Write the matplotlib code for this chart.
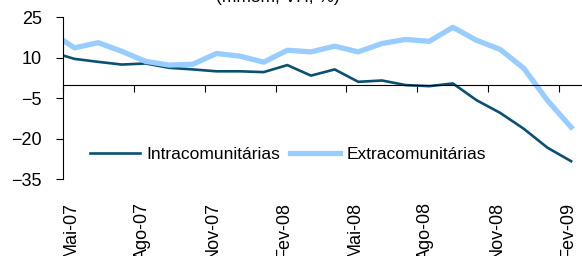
import matplotlib
matplotlib.use('Agg')
import matplotlib.pyplot as plt
import numpy as np

plt.rcParams['font.family'] = ['Liberation Sans', 'DejaVu Sans']

# meses (Abr-07 .. Fev-09), o primeiro fica cortado pelo eixo
meses = ['Abr-07', 'Mai-07', 'Jun-07', 'Jul-07', 'Ago-07', 'Set-07', 'Out-07',
         'Nov-07', 'Dez-07', 'Jan-08', 'Fev-08', 'Mar-08', 'Abr-08', 'Mai-08',
         'Jun-08', 'Jul-08', 'Ago-08', 'Set-08', 'Out-08', 'Nov-08', 'Dez-08',
         'Jan-09', 'Fev-09']
intra = [12.2, 9.6, 8.5, 7.5, 7.9, 6.3, 5.7, 5.0, 5.0, 4.7, 7.3, 3.4, 5.7,
         1.1, 1.6, -0.1, -0.5, 0.5, -5.7, -10.4, -16.3, -23.3, -28.3]
extra = [19.3, 13.7, 15.6, 12.4, 8.7, 7.3, 7.6, 11.6, 10.6, 8.4, 12.8, 12.2,
         14.3, 12.2, 15.3, 16.8, 16.1, 21.3, 16.5, 13.1, 6.1, -5.8, -15.7]
tick_labels = ['Mai-07', 'Ago-07', 'Nov-07', 'Fev-08', 'Mai-08', 'Ago-08',
               'Nov-08', 'Fev-09']

x = np.arange(len(meses)) - 0.5  # categorias centradas entre marcas

fig = plt.figure(figsize=(5.82, 2.56), dpi=100)
ax = fig.add_axes([0.1077, 0.2996, 0.8923, 0.6328])

ax.plot(x, intra, color='#0B5070', lw=1.9, label='Intracomunitárias')
ax.plot(x, extra, color='#99CCFF', lw=3.8, label='Extracomunitárias')

ax.set_xlim(0, 21.96)
ax.set_ylim(-35, 25)
ax.set_yticks([25, 10, -5, -20, -35])
ax.tick_params(axis='y', direction='out', length=5, pad=10, labelsize=13)

ax.spines['top'].set_visible(False)
ax.spines['right'].set_visible(False)
ax.spines['bottom'].set_position(('data', 0))

xt = np.arange(0, 22, 3)
ax.set_xticks(xt)
ax.set_xticklabels([])
ax.tick_params(axis='x', direction='out', length=5)

# rótulos do eixo x em baixo
sec = ax.secondary_xaxis('bottom')
sec.set_xticks(xt)
sec.set_xticklabels(tick_labels, rotation=90, ha='left', va='top', fontsize=13)
sec.tick_params(length=0, pad=16)
sec.spines['bottom'].set_visible(False)

ax.legend(loc='center left', bbox_to_anchor=(0.052, 0.156), ncol=2,
          frameon=False, fontsize=12.5, handlelength=2.9, handletextpad=0.35,
          columnspacing=0.57, borderpad=0, borderaxespad=0)

fig.text(0.478, 0.98, '(mm3m, VH, %)', ha='center', va='bottom', fontsize=12.5)

fig.savefig('out.png', dpi=100)
